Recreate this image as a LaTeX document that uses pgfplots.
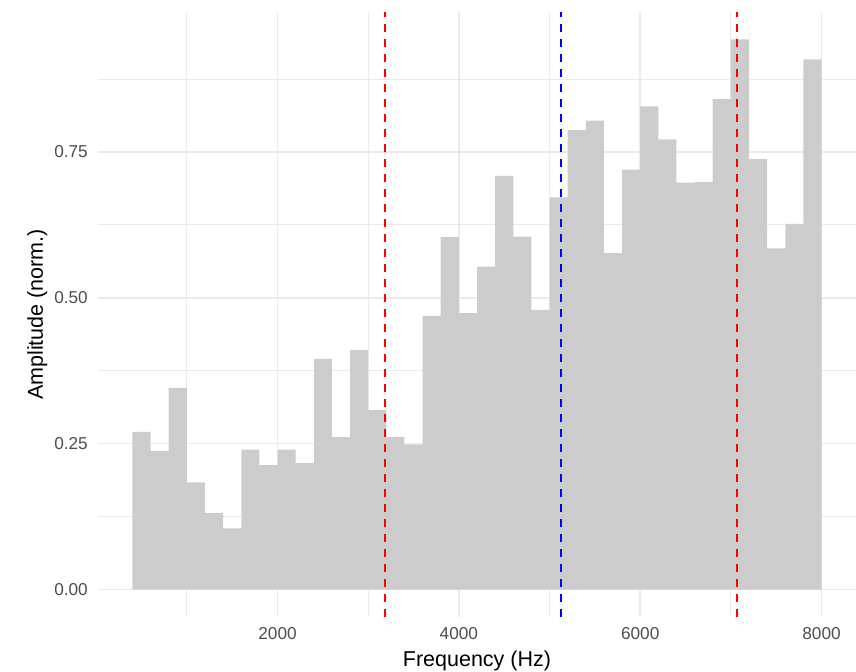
\documentclass[border=0pt]{standalone}
\usepackage{pgfplots}
\pgfplotsset{compat=1.18}
\usepackage{fontspec}
\setmainfont{Liberation Sans}

\definecolor{gridgrey}{HTML}{EBEBEB}
\definecolor{barfill}{HTML}{CCCCCC}
\definecolor{ticktext}{HTML}{4D4D4D}

\begin{document}
\begin{tikzpicture}
\useasboundingbox (-98bp,-55bp) rectangle (758bp,617bp);
\begin{axis}[
  at={(0,0)}, anchor=south west,
  scale only axis,
  width=758bp, height=605bp,
  xmin=20, xmax=8380,
  ymin=-0.047, ymax=0.99,
  xtick={2000,4000,6000,8000},
  minor xtick={1000,3000,5000,7000},
  ytick={0,0.25,0.5,0.75},
  minor ytick={0.125,0.375,0.625,0.875},
  yticklabels={0.00,0.25,0.50,0.75},
  scaled x ticks=false,
  xticklabel style={/pgf/number format/1000 sep={}},
  /pgf/number format/assume math mode=true,
  grid=both,
  major grid style={draw=gridgrey, line width=1.5bp},
  minor grid style={draw=gridgrey, line width=1.0bp},
  axis line style={draw=none},
  tick style={draw=none},
  major tick length=0pt, minor tick length=0pt,
  tick label style={font=\fontsize{17.2bp}{20bp}\selectfont, text=ticktext, inner sep=0pt},
  xticklabel style={yshift=-10.5bp},
  yticklabel style={xshift=-10bp},
  xlabel={Frequency (Hz)},
  ylabel={Amplitude (norm.)},
  label style={font=\fontsize{21.5bp}{25bp}\selectfont, text=black, inner sep=0pt},
  xlabel style={at={(axis description cs:0.5,-0.0825)}, anchor=base},
  ylabel style={at={(axis description cs:-0.0726,0.5)}, anchor=base, rotate=0},
  clip=true,
]
% spectrum bins, 200 Hz wide, left edges
\addplot[ybar interval, fill=barfill, draw=none] coordinates {
  (400,0.2705) (600,0.2374) (800,0.3459) (1000,0.1838) (1200,0.1313)
  (1400,0.1050) (1600,0.2397) (1800,0.2135) (2000,0.2397) (2200,0.2169)
  (2400,0.3955) (2600,0.2614) (2800,0.4110) (3000,0.3080) (3200,0.2614)
  (3400,0.2489) (3600,0.4692) (3800,0.6040) (4000,0.4737) (4200,0.5536)
  (4400,0.7089) (4600,0.6050) (4800,0.4795) (5000,0.6724) (5200,0.7877)
  (5400,0.8037) (5600,0.5765) (5800,0.7198) (6000,0.8282) (6200,0.7717)
  (6400,0.6975) (6600,0.6986) (6800,0.8408) (7000,0.9430) (7200,0.7380)
  (7400,0.5850) (7600,0.6267) (7800,0.9087) (8000,0.9087)
};
% centre and spread markers
\addplot[red, line width=2bp, dash pattern=on 7.5bp off 7.5bp] coordinates {(3187,-0.047) (3187,0.99)};
\addplot[blue, line width=2bp, dash pattern=on 7.5bp off 7.5bp] coordinates {(5125,-0.047) (5125,0.99)};
\addplot[red, line width=2bp, dash pattern=on 7.5bp off 7.5bp] coordinates {(7063,-0.047) (7063,0.99)};
\end{axis}
\end{tikzpicture}
\end{document}
